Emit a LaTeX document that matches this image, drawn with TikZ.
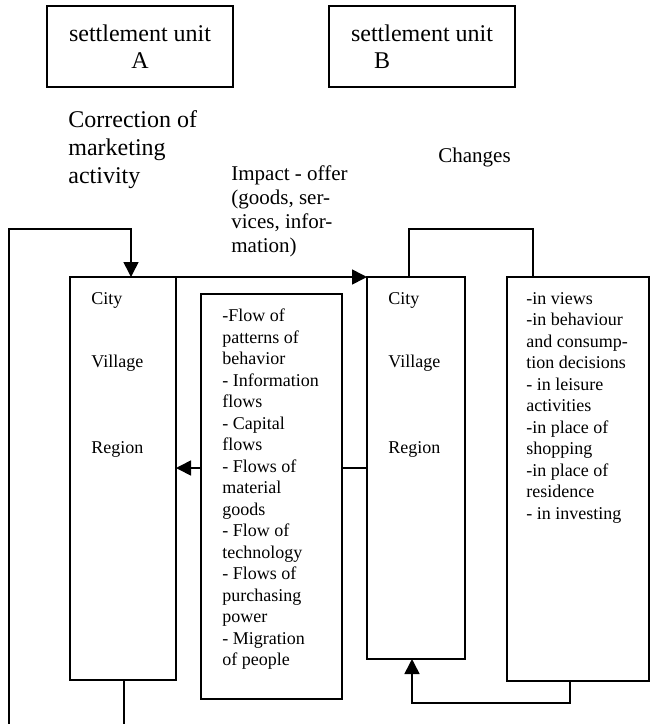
\documentclass[tikz,border=0pt]{standalone}
\usepackage{fontspec}
\setmainfont{Liberation Serif}
\usetikzlibrary{arrows.meta}
\begin{document}
\begin{tikzpicture}
[x=0.5pt,y=-0.5pt,
  boxDecorate/.style={shape=rectangle,draw,line width=0.65pt,inner sep=0pt,outer sep=0pt,anchor=north west},%
  unitDecorate/.style={shape=rectangle,draw,line width=0.65pt,minimum width=93pt,minimum height=40.5pt,align=left,font=\fontsize{12}{13.5}\selectfont},%
  placeDecorate/.style={inner sep=0pt,anchor=base west,font=\fontsize{9}{10.75}\selectfont},%
  textDecorate/.style={inner sep=0pt,anchor=north west,align=left,font=\fontsize{9}{10.75}\selectfont},%
  lineDecorate/.style={-,line width=0.65pt},%
  arrowDecorate/.style={-{Triangle[length=7.5pt,width=7.5pt]},line width=0.8pt}]
\useasboundingbox (0,0) rectangle (651,724);
%% settlement units
\node (unitA) at (140,46.5) [unitDecorate,align=center] {settlement unit\\A};
\node (unitB) at (422,46.5) [unitDecorate] {settlement unit\\\hspace*{11.5pt}B};
%% boxes
\foreach \nodename/\x/\y/\w/\h in {
  boxA/70/277/53/201.5, flows/201/294/70.5/202.5,
  boxB/367/277/49/191, changes/507/277/71/202}
{
  \node (\nodename) at (\x,\y) [boxDecorate,minimum width=\w pt,minimum height=\h pt] {};
}
%% places
\foreach \nodename/\y/\txt in {city/304/City, village/367/Village, region/453/Region}
{
  \node (\nodename LabelA) at (91,\y) [placeDecorate] {\txt};
  \node (\nodename LabelB) at (388,\y) [placeDecorate] {\txt};
}
%% labels
\node (corrLabel) at (68,110) [textDecorate,font=\fontsize{12}{14}\selectfont]
  {Correction of\\marketing\\activity};
\node (impactLabel) at (231,165) [textDecorate,font=\fontsize{10.5}{12}\selectfont]
  {Impact - offer\\(goods, ser-\\vices, infor-\\mation)};
\node (changesLabel) at (438,162) [placeDecorate,font=\fontsize{10.5}{12}\selectfont] {Changes};
\node (flowsText) at (222,308.7) [textDecorate]
  {-Flow of\\patterns of\\behavior\\- Information\\flows\\- Capital\\flows\\- Flows of\\material\\goods\\- Flow of\\technology\\- Flows of\\purchasing\\power\\- Migration\\of people};
\node (changesText) at (526,291.7) [textDecorate]
  {-in views\\-in behaviour\\and consump-\\tion decisions\\- in leisure\\activities\\-in place of\\shopping\\-in place of\\residence\\- in investing};
%% connectors
\coordinate (loopL) at (9,724);
\coordinate (loopR) at (124,724);
\draw[arrowDecorate] ([xshift=-6.5pt]boxA.north east) -- (boxB.north west);
\draw[arrowDecorate] (loopL) |- ([xshift=4pt,yshift=24pt]boxA.north) -- ([xshift=4pt]boxA.north);
\draw[lineDecorate] ([xshift=0.5pt]boxA.south) -- (loopR);
\draw[lineDecorate] (boxB.west) -- (boxB.west -| flows.east);
\draw[arrowDecorate] (boxB.west -| flows.west) -- (boxB.west -| boxA.east);
\draw[lineDecorate] ([xshift=-3.5pt]boxB.north) -- ++(0,-48) -| ([xshift=-22.5pt]changes.north);
\draw[arrowDecorate] ([xshift=-4pt]changes.south) -- ++(0,22) -| ([xshift=-2pt]boxB.south);
\end{tikzpicture}
\end{document}
